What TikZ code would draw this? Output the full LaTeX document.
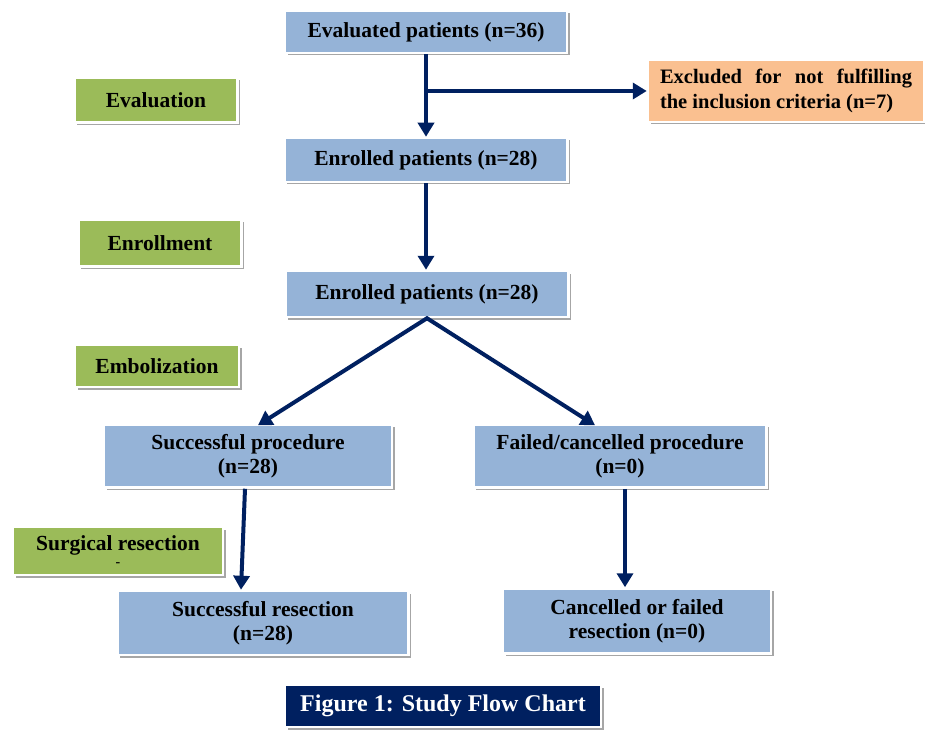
\documentclass[tikz,border=0pt]{standalone}
\usepackage{fontspec}
\setmainfont{Liberation Serif}
\usetikzlibrary{arrows.meta,shadows}

\definecolor{boxblue}{HTML}{95B3D7}
\definecolor{boxgreen}{HTML}{9BBB59}
\definecolor{boxorange}{HTML}{FAC090}
\definecolor{navy}{HTML}{002060}

\tikzset{
  every picture/.style={line width=0.75pt},
  box/.style={draw=white,line width=2.5pt,fill=boxblue,align=center,
    font=\bfseries\fontsize{21.5}{24}\selectfont,inner sep=0pt,
    drop shadow={shadow xshift=2.5pt,shadow yshift=-2.5pt,fill=black!35,opacity=1}},
  stagebox/.style={box,fill=boxgreen},
  exclbox/.style={box,fill=boxorange},
  flow/.style={-{Triangle[width=16pt,length=14pt]},draw=navy,line width=4pt},
}

\begin{document}
\begin{tikzpicture}[x=1pt,y=-1pt]
				\useasboundingbox (0,0) rectangle (925,735);
				% 左の段階ラベル
				\node[stagebox,minimum width=163,minimum height=45] (evalL) at (156,100) {Evaluation};
				\node[stagebox,minimum width=163,minimum height=47] (enrL) at (160,243) {Enrollment};
				\node[stagebox,minimum width=164,minimum height=42] (embL) at (157,366) {Embolization};
				\node[stagebox,minimum width=210,minimum height=48] (surgL) at (118,551) {Surgical resection\\[-8pt]{\fontsize{14}{14}\selectfont -}};
				% 流れの箱
				\node[box,minimum width=282,minimum height=42] (eval) at (426,32) {Evaluated patients (n=36)};
				\node[exclbox,minimum width=276,minimum height=62,text width=252,align=justify,font=\bfseries\fontsize{20.5}{25}\selectfont] (excl) at (786,91) {Excluded for not fulfilling\linebreak the inclusion criteria (n=7)};
				\node[box,minimum width=283,minimum height=44] (enr1) at (426,160) {Enrolled patients (n=28)};
				\node[box,minimum width=283,minimum height=46] (enr2) at (427,294) {Enrolled patients (n=28)};
				\node[box,minimum width=288,minimum height=63] (succ) at (248,456) {Successful procedure\\(n=28)};
				\node[box,minimum width=293,minimum height=63] (fail) at (620,456) {Failed/cancelled procedure\\(n=0)};
				\node[box,minimum width=291,minimum height=64] (succres) at (263,623) {Successful resection\\(n=28)};
				\node[box,minimum width=268,minimum height=65] (canc) at (637,621) {Cancelled or failed\\resection (n=0)};
				% 図の題
				\node[box,fill=navy,text=white,minimum width=316,minimum height=42,font=\bfseries\fontsize{24}{26}\selectfont] (cap) at (443,706) {Figure 1: Study Flow Chart};
				% 矢印
				\draw[flow] (eval.south) -- (enr1.north);
				\draw[flow] ([xshift=-2pt]eval.south |- excl.west) -- (excl.west);
				\draw[flow] (enr1.south) -- (enr1.south |- enr2.north);
				\draw[flow,shorten <=-1pt] (enr2.south) -- ([xshift=10pt,yshift=-2pt]succ.north);
				\draw[flow,shorten <=-1pt] (enr2.south) -- ([xshift=-25pt,yshift=-2pt]fail.north);
				\draw[flow] ([xshift=-3pt]succ.south) -- ([xshift=-22pt]succres.north);
				\draw[flow] ([xshift=5pt]fail.south) -- ([xshift=5pt]fail.south |- canc.north);
			\end{tikzpicture}
\end{document}
